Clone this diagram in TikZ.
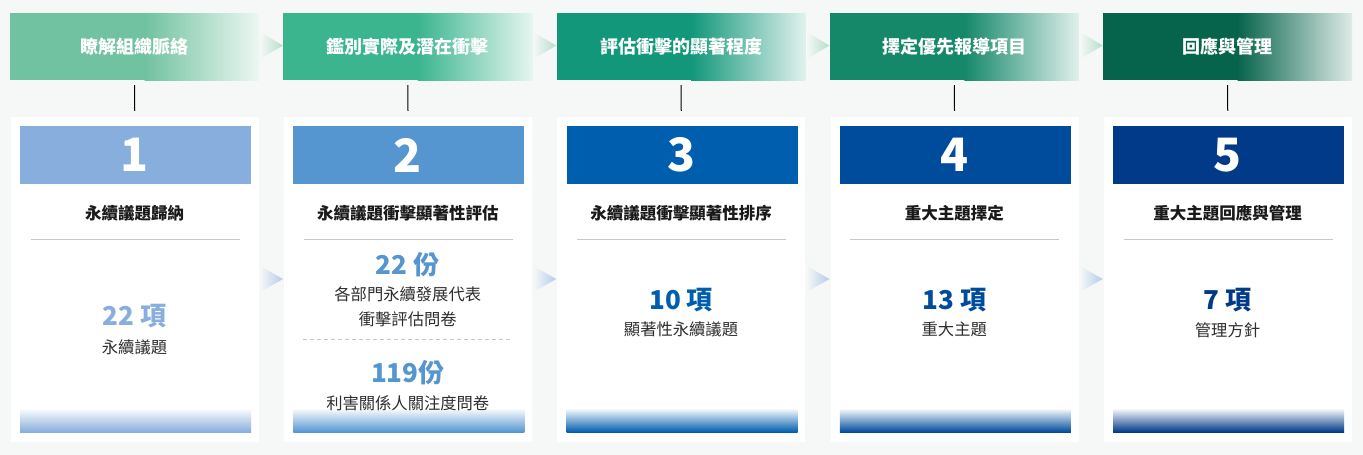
\documentclass[tikz,border=0pt]{standalone}
\usepackage{fontspec}
\setmainfont{Noto Sans CJK TC}
\usetikzlibrary{calc}
\definecolor{bg}{HTML}{F6F8F7}
\definecolor{hca}{HTML}{70C2A0}
\definecolor{hcb}{HTML}{3BB58E}
\definecolor{hcc}{HTML}{12977A}
\definecolor{hcd}{HTML}{15886A}
\definecolor{hce}{HTML}{07644C}
\definecolor{bca}{HTML}{87AEDC}
\definecolor{bcb}{HTML}{5596D1}
\definecolor{bcc}{HTML}{005EAE}
\definecolor{bcd}{HTML}{004C9C}
\definecolor{bce}{HTML}{003A88}
\definecolor{trig}{HTML}{B6DDC9}
\definecolor{trib}{HTML}{B4CAEA}
\definecolor{sepc}{HTML}{C8C8C8}
\definecolor{titlec}{HTML}{1A1A1A}
\definecolor{subc}{HTML}{2E2E2E}
\tikzset{
  headbox/.style={rectangle, inner sep=0pt, minimum width=249pt, minimum height=67pt,
    text=white, font=\bfseries\fontsize{18}{22}\selectfont},
  cardbox/.style={rectangle, inner sep=0pt, minimum width=248pt, minimum height=325pt, fill=white},
  bignum/.style={inner sep=0pt, text=white, font=\bfseries\fontsize{46}{50}\selectfont},
  cardtitle/.style={inner sep=0pt, text=titlec, font=\bfseries\fontsize{16.5}{20}\selectfont},
  countnum/.style={inner sep=0pt, font=\bfseries\fontsize{26}{30}\selectfont},
  subtext/.style={inner sep=0pt, text=subc, font=\fontsize{16.3}{20}\selectfont},
  sepline/.style={draw=sepc, line width=1pt},
  link/.style={draw=black, line width=1pt}
}
\begin{document}
\begin{tikzpicture}[x=1pt,y=-1pt]
\useasboundingbox[fill=bg] (0,0) rectangle (1363,455);

\foreach \i/\hc/\bc/\lbl in {1/hca/bca/瞭解組織脈絡, 2/hcb/bcb/鑑別實際及潛在衝擊, 3/hcc/bcc/評估衝擊的顯著程度, 4/hcd/bcd/擇定優先報導項目, 5/hce/bce/回應與管理}{
  \pgfmathsetmacro\xl{10+273.25*(\i-1)}
  % header gradient
  \fill[\hc] (\xl,13) rectangle (\xl+135,80);
  \shade[left color=\hc, right color=\hc!13!white] (\xl+134.5,13) rectangle (\xl+249,80);
  \node[headbox] (h\i) at (\xl+124.5,46.5) {\lbl};
  % card
  \node[cardbox] (c\i) at (\xl+124.75,279.5) {};
  \fill[\bc] (\xl+10,126) rectangle (\xl+241,184);
  \node[bignum] (n\i) at (\xl+124.5,155) {\i};
  \shade[top color=white, bottom color=\bc] (\xl+10,408) rectangle (\xl+241,432);
  \draw[sepline] (\xl+20.5,239) -- (\xl+229.5,239);
  % connector
  \draw[link] ([yshift=-5pt]h\i.south) -- ([yshift=6pt]c\i.north);
}

% arrows between columns
\foreach \i in {1,2,3,4}{
  \pgfmathsetmacro\xr{10+273.25*(\i-1)+249}
  \shade[left color=bg, right color=trig] (\xr+1,32) -- (\xr+24,45.5) -- (\xr+1,59) -- cycle;
  \shade[left color=bg, right color=trib] (\xr+1,266) -- (\xr+24,279) -- (\xr+1,292) -- cycle;
}

% column 1
\node[cardtitle] (t1) at (134.5,213) {永續議題歸納};
\node[countnum, text=bca] (k1) at (134.5,316) {22 項};
\node[subtext] (s1) at (134.5,347) {永續議題};

% column 2
\node[cardtitle] (t2) at (407.75,213) {永續議題衝擊顯著性評估};
\node[countnum, text=bcb] (k2a) at (407.75,265) {22 份};
\node[subtext] (s2a) at (407.75,294) {各部門永續發展代表};
\node[subtext] (s2b) at (407.75,319) {衝擊評估問卷};
\draw[draw=sepc, line width=1pt, dash pattern=on 4pt off 3pt] (303,339) -- (512,339);
\node[countnum, text=bcb] (k2b) at (407.75,373) {119份};
\node[subtext] (s2c) at (407.75,403) {利害關係人關注度問卷};

% column 3
\node[cardtitle] (t3) at (681,213) {永續議題衝擊顯著性排序};
\node[countnum, text=bcc] (k3) at (681,300) {10 項};
\node[subtext] (s3) at (681,329) {顯著性永續議題};

% column 4
\node[cardtitle] (t4) at (954.25,213) {重大主題擇定};
\node[countnum, text=bcd] (k4) at (954.25,300) {13 項};
\node[subtext] (s4) at (954.25,329) {重大主題};

% column 5
\node[cardtitle] (t5) at (1227.5,213) {重大主題回應與管理};
\node[countnum, text=bce] (k5) at (1227.5,300) {7 項};
\node[subtext] (s5) at (1227.5,330) {管理方針};
\end{tikzpicture}
\end{document}
